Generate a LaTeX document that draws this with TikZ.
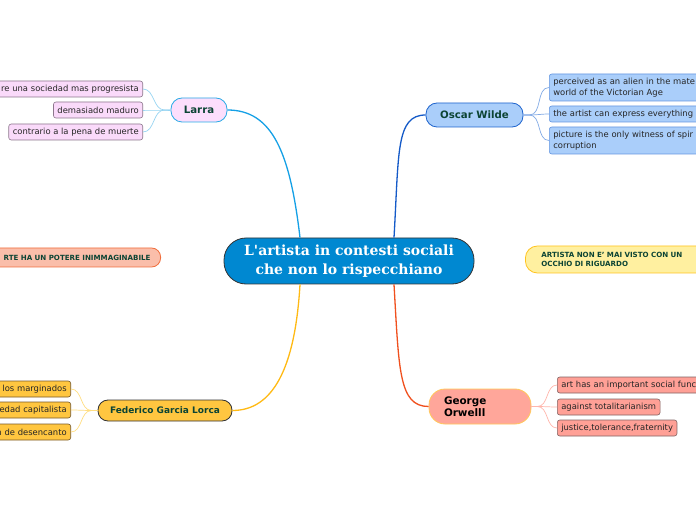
\documentclass[tikz,border=0pt]{standalone}
\usepackage{fontspec}
\setmainfont{DejaVu Sans}
\newfontfamily\titlefont{DejaVu Serif}
\definecolor{ctrblue}{RGB}{0,136,209}
\definecolor{dkgreen}{RGB}{12,68,52}
\definecolor{larrafill}{RGB}{252,222,252}
\definecolor{larraline}{RGB}{40,170,230}
\definecolor{larraconn}{RGB}{20,160,230}
\definecolor{lkidfill}{RGB}{250,218,250}
\definecolor{lkidline}{RGB}{140,118,140}
\definecolor{lsub}{RGB}{150,212,242}
\definecolor{oscfill}{RGB}{170,206,250}
\definecolor{oscline}{RGB}{30,100,205}
\definecolor{oscconn}{RGB}{20,90,200}
\definecolor{okidline}{RGB}{100,150,225}
\definecolor{osub}{RGB}{130,170,230}
\definecolor{lorfill}{RGB}{255,198,64}
\definecolor{lorline}{RGB}{50,50,50}
\definecolor{lorconn}{RGB}{255,186,20}
\definecolor{lokidline}{RGB}{120,90,40}
\definecolor{losub}{RGB}{255,222,130}
\definecolor{orwfill}{RGB}{255,166,154}
\definecolor{orwline}{RGB}{255,200,90}
\definecolor{orwconn}{RGB}{240,80,30}
\definecolor{okfill}{RGB}{255,160,150}
\definecolor{okline}{RGB}{130,100,100}
\definecolor{orsub}{RGB}{255,182,172}
\definecolor{potfill}{RGB}{250,190,170}
\definecolor{potline}{RGB}{240,110,60}
\definecolor{artfill}{RGB}{255,240,160}
\definecolor{artline}{RGB}{255,195,30}
\begin{document}
\begin{tikzpicture}[x=1pt,y=1pt,
  ctrbox/.style={draw=black!80, fill=ctrblue, rounded corners=22pt, minimum width=250pt, minimum height=46pt, text=white, font=\titlefont\bfseries\fontsize{14}{19}\selectfont, align=center, line width=0.8pt, inner sep=0pt},
  mainbox/.style={rounded corners=11pt, font=\bfseries\fontsize{10.2}{12}\selectfont, text=dkgreen, inner sep=0pt, line width=0.8pt},
  kid/.style={rounded corners=2.5pt, font=\fontsize{8.4}{10.5}\selectfont, text=black!85, minimum height=16pt, inner xsep=4pt, inner ysep=0pt, line width=0.6pt},
  float/.style={font=\bfseries\fontsize{7.1}{9.5}\selectfont, text=dkgreen, line width=0.8pt},
  conn/.style={line width=1.3pt},
  sub/.style={line width=0.7pt}
]
\useasboundingbox (0,0) rectangle (696,520);
\clip (0,0) rectangle (696,520);
\fill[white] (0,0) rectangle (696,520);

% central
\node[ctrbox] (ctr) at (349,259) {L'artista in contesti sociali\\che non lo rispecchiano};

% Larra
\node[mainbox, fill=larrafill, draw=larraline, minimum width=56pt, minimum height=24pt] (larra) at (199,410) {Larra};
\node[kid, fill=lkidfill, draw=lkidline, anchor=east, text width=140pt, align=right] (l1) at (143,431) {re una sociedad mas progresista};
\node[kid, fill=lkidfill, draw=lkidline, anchor=east] (l2) at (143,410) {demasiado maduro};
\node[kid, fill=lkidfill, draw=lkidline, anchor=east] (l3) at (143,388) {contrario a la pena de muerte};

% Oscar Wilde
\node[mainbox, fill=oscfill, draw=oscline, minimum width=97pt, minimum height=24pt] (osc) at (474.5,405) {Oscar Wilde};
\node[kid, fill=oscfill, draw=okidline, anchor=west, text width=200pt, align=left, minimum height=27pt] (o1) at (549,432.5) {perceived as an alien in the mate\\world of the Victorian Age};
\node[kid, fill=oscfill, draw=okidline, anchor=west, text width=200pt, align=left] (o2) at (549,406) {the artist can express everything};
\node[kid, fill=oscfill, draw=okidline, anchor=west, text width=200pt, align=left, minimum height=27pt] (o3) at (549,379.5) {picture is the only witness of spir\\corruption};

% floating
\node[float, fill=potfill, draw=potline, rounded corners=9pt, anchor=east, minimum height=19pt, inner xsep=10pt, inner ysep=0pt, text width=190pt, align=right] (pot) at (161,262.5) {RTE HA UN POTERE INIMMAGINABILE};
\node[float, fill=artfill, draw=artline, rounded corners=12pt, anchor=west, minimum height=27pt, inner xsep=16pt, inner ysep=0pt, text width=200pt, align=left] (art) at (525,260.5) {ARTISTA NON E' MAI VISTO CON UN\\OCCHIO DI RIGUARDO};

% Lorca
\node[mainbox, fill=lorfill, draw=lorline, minimum width=134pt, minimum height=21pt, rounded corners=10pt, font=\bfseries\fontsize{9}{11}\selectfont] (lor) at (165,109.5) {Federico Garcia Lorca};
\node[kid, fill=lorfill, draw=lokidline, anchor=east, text width=120pt, align=right] (f1) at (71,131) {los marginados};
\node[kid, fill=lorfill, draw=lokidline, anchor=east, text width=120pt, align=right] (f2) at (71,110) {edad capitalista};
\node[kid, fill=lorfill, draw=lokidline, anchor=east, text width=120pt, align=right] (f3) at (71,88) {n de desencanto};

% Orwell
\node[mainbox, fill=orwfill, draw=orwline, minimum height=35pt, rounded corners=16pt, text=black, text width=72pt, inner xsep=15pt, align=left, font=\bfseries\fontsize{10.4}{12.5}\selectfont] (orw) at (480,113.5) {George\\Orwelll};
\node[kid, fill=okfill, draw=okline, anchor=west, text width=200pt, align=left] (w1) at (557,135) {art has an important social func};
\node[kid, fill=okfill, draw=okline, anchor=west] (w2) at (557,113) {against totalitarianism};
\node[kid, fill=okfill, draw=okline, anchor=west] (w3) at (557,92) {justice,tolerance,fraternity};

% main connectors
\draw[conn, draw=larraconn] ([xshift=-49pt]ctr.north) .. controls +(-10,85) and +(45,0) .. (larra.east);
\draw[conn, draw=oscconn] ([xshift=45pt]ctr.north) .. controls +(5,85) and +(-30,0) .. (osc.west);
\draw[conn, draw=lorconn] ([xshift=-49pt]ctr.south) .. controls +(-5,-85) and +(40,0) .. (lor.east);
\draw[conn, draw=orwconn] ([xshift=45pt]ctr.south) .. controls +(5,-85) and +(-30,0) .. (orw.west);

% sub connectors
\foreach \k in {l1,l2,l3}{\draw[sub, draw=lsub] (larra.west) -- ++(-6,0) to[out=180,in=0] (\k.east);}
\foreach \k in {o1,o2,o3}{\draw[sub, draw=osub] (osc.east) -- ++(6,0) to[out=0,in=180] (\k.west);}
\foreach \k in {f1,f2,f3}{\draw[sub, draw=losub] (lor.west) -- ++(-6,0) to[out=180,in=0] (\k.east);}
\foreach \k in {w1,w2,w3}{\draw[sub, draw=orsub] (orw.east) -- ++(6,0) to[out=0,in=180] (\k.west);}
\end{tikzpicture}
\end{document}
